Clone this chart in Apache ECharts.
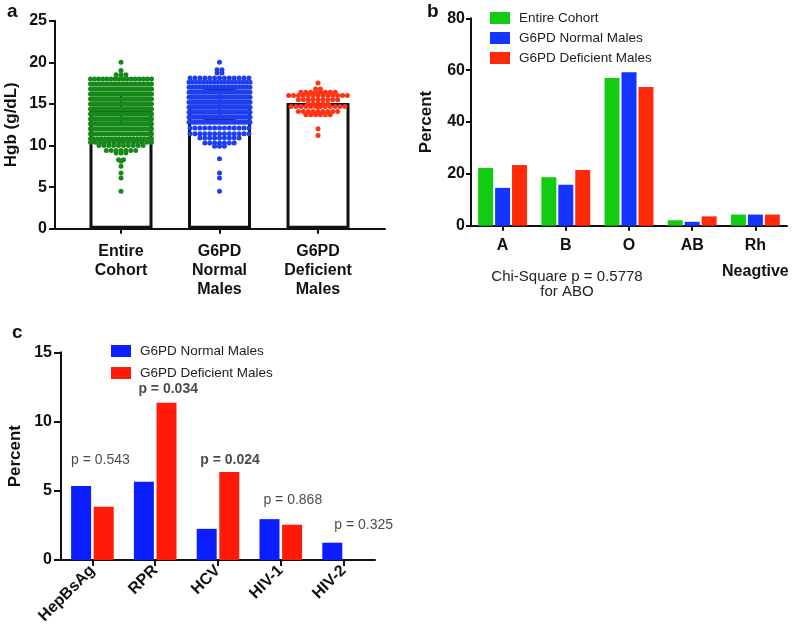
<!DOCTYPE html>
<html><head><meta charset="utf-8">
<script src="https://cdn.jsdelivr.net/npm/echarts@6/dist/echarts.min.js"></script>
<style>html,body{margin:0;padding:0;background:#fff}#c{width:797px;height:628px}</style>
</head><body><div id="c"></div>
<script>
// ---------- Panel a : Hgb scatter + bars ----------
const groupsA = ['Entire\nCohort', 'G6PD\nNormal\nMales', 'G6PD\nDeficient\nMales'];
const meanA = [14.4, 14.9, 15.1];
const sdA = [1.9, 1.8, 1.15];
// [Hgb value, number of subjects in that row]
const rowsEntire = [[20.0,1],[19.0,1],[18.5,3],[18.0,16],[17.4,24],[16.8,30],[16.2,36],[15.6,40],[15.0,42],[14.4,42],[13.8,40],[13.2,36],[12.6,30],[12.0,26],[11.4,22],[10.8,18],[10.4,14],[10.0,10],[9.4,7],[9.1,3],[8.3,2],[8.1,1],[7.5,1],[6.7,1],[6.1,1],[4.5,1]];
const rowsNormal = [[20.0,1],[19.1,2],[18.7,2],[18.1,13],[17.6,18],[17.0,24],[16.4,28],[15.8,30],[15.2,32],[14.6,32],[14.0,30],[13.4,26],[12.8,22],[12.1,13],[11.4,13],[10.9,9],[10.3,7],[9.9,3],[8.4,1],[6.7,1],[6.1,1],[4.5,1]];
const rowsDeficient = [[17.5,1],[16.8,2],[16.4,8],[16.0,13],[15.5,9],[15.0,5],[14.7,12],[14.1,9],[13.7,6],[12.0,1],[11.2,1]];

// ---------- Panel b : ABO ----------
const bloodGroups = ['A', 'B', 'O', 'AB', 'Rh\nNeagtive'];
const entireB = [22.3, 18.7, 57.0, 2.1, 4.3];
const normalB = [14.6, 15.8, 59.2, 1.5, 4.3];
const deficientB = [23.4, 21.5, 53.5, 3.6, 4.3];

// ---------- Panel c : infections ----------
const infections = ['HepBsAg', 'RPR', 'HCV', 'HIV-1', 'HIV-2'];
const normalC = [5.35, 5.65, 2.25, 2.95, 1.25];
const deficientC = [3.85, 11.35, 6.35, 2.55, 0];
const pTexts = ['p = 0.543', 'p = 0.034', 'p = 0.024', 'p = 0.868', 'p = 0.325'];
const pY = [7.2, 12.35, 7.2, 4.33, 2.53];
const pBold = [false, true, true, false, false];

// ---------- layout ----------
const FONT = "'Liberation Sans', Arial, Helvetica, sans-serif";
const gridA = {left: 55, top: 20.7, width: 330, height: 208};
const X_MIN_A = -0.67, X_MAX_A = 2.68;
const PX_PER_UNIT = gridA.width / (X_MAX_A - X_MIN_A);
const DOT_SP = 4.9, MAX_W = 61;

function swarm(rows, g) {
  const out = [];
  rows.forEach(([v, n]) => {
    const sp = n > 1 ? Math.min(DOT_SP, MAX_W / (n - 1)) : 0;
    for (let i = 0; i < n; i++) out.push([g + (i - (n - 1) / 2) * sp / PX_PER_UNIT, v]);
  });
  return out;
}

const colA = ['#17891a', '#1d3ff0', '#ff3414'];
const colB = ['#12cc12', '#1434ff', '#ff2a0a'];
const colC = ['#0a1eff', '#ff1a0a'];

const axisLineStyle = {color: '#111', width: 2};
function yAxisBase(gi, max, interval, name, nameGap, margin, tickLen) {
  return {
    gridIndex: gi, type: 'value', min: 0, max: max, interval: interval,
    name: name, nameLocation: 'middle', nameGap: nameGap,
    nameTextStyle: {fontFamily: FONT, fontWeight: 'bold', fontSize: 17, color: '#111'},
    axisLine: {show: true, onZero: false, lineStyle: axisLineStyle},
    axisTick: {show: true, length: tickLen, lineStyle: {color: '#111', width: 2}},
    axisLabel: {fontFamily: FONT, fontWeight: 'bold', fontSize: 16, color: '#111', margin: margin},
    splitLine: {show: false}
  };
}

const scatterNames = ['Entire Cohort (a)', 'G6PD Normal Males (a)', 'G6PD Deficient Males (a)'];
const rowsAll = [rowsEntire, rowsNormal, rowsDeficient];

const annotOffsets = [8, 13, 12, 12, 20];

const option = {
  backgroundColor: '#fff',
  animation: false,
  textStyle: {fontFamily: FONT},
  grid: [
    Object.assign({outerBoundsMode: 'none', containLabel: false}, gridA),
    {left: 471, top: 18.3, width: 316, height: 207.4, outerBoundsMode: 'none', containLabel: false},
    {left: 61, top: 352.3, width: 314, height: 207.7, outerBoundsMode: 'none', containLabel: false}
  ],
  xAxis: [
    {
      gridIndex: 0, type: 'value', min: X_MIN_A, max: X_MAX_A,
      axisLine: {show: true, onZero: false, lineStyle: axisLineStyle},
      axisTick: {show: true, customValues: [0, 1, 2], length: 5, lineStyle: {color: '#111', width: 2}},
      axisLabel: {customValues: [0, 1, 2], formatter: v => groupsA[Math.round(v)],
        fontFamily: FONT, fontWeight: 'bold', fontSize: 16, lineHeight: 19, color: '#111', margin: 13},
      splitLine: {show: false}
    },
    {
      gridIndex: 1, type: 'category', data: bloodGroups,
      axisLine: {show: true, onZero: false, lineStyle: axisLineStyle},
      axisTick: {show: true, alignWithLabel: true, length: 5, lineStyle: {color: '#111', width: 2}},
      axisLabel: {fontFamily: FONT, fontWeight: 'bold', fontSize: 16, lineHeight: 26, color: '#111', margin: 7, interval: 0},
      splitLine: {show: false}
    },
    {
      gridIndex: 2, type: 'category', data: infections,
      axisLine: {show: true, onZero: false, lineStyle: axisLineStyle},
      axisTick: {show: true, alignWithLabel: true, length: 6, lineStyle: {color: '#111', width: 2}},
      axisLabel: {fontFamily: FONT, fontWeight: 'bold', fontSize: 16, color: '#111', margin: 8, rotate: 45, interval: 0},
      splitLine: {show: false}
    }
  ],
  yAxis: [
    yAxisBase(0, 25, 5, 'Hgb (g/dL)', 35, 8, 6),
    yAxisBase(1, 80, 20, 'Percent', 36, 6, 5),
    yAxisBase(2, 15, 5, 'Percent', 37, 9, 7)
  ],
  legend: [
    {
      orient: 'vertical', left: 485, top: 6, itemWidth: 20, itemHeight: 12, itemGap: 6, icon: 'rect',
      textStyle: {fontFamily: FONT, fontSize: 13.5, color: '#222', lineHeight: 12, padding: [0, 0, 0, 4]},
      data: ['Entire Cohort', 'G6PD Normal Males', 'G6PD Deficient Males']
    },
    {
      orient: 'vertical', left: 106, top: 339, itemWidth: 20, itemHeight: 12, itemGap: 8, icon: 'rect',
      textStyle: {fontFamily: FONT, fontSize: 13.5, color: '#222', lineHeight: 12, padding: [0, 0, 0, 4]},
      formatter: n => n.replace(' (c)', ''),
      data: ['G6PD Normal Males (c)', 'G6PD Deficient Males (c)']
    }
  ],
  graphic: [
    {type: 'text', left: 7, top: 2, style: {text: 'a', font: 'bold 19px ' + FONT, fill: '#111'}},
    {type: 'text', left: 427, top: 2, style: {text: 'b', font: 'bold 19px ' + FONT, fill: '#111'}},
    {type: 'text', left: 12, top: 323, style: {text: 'c', font: 'bold 19px ' + FONT, fill: '#111'}},
    {type: 'text', x: 567, y: 277, style: {text: 'Chi-Square p = 0.5778', font: '15px ' + FONT, fill: '#222', align: 'center', verticalAlign: 'middle'}},
    {type: 'text', x: 567, y: 292, style: {text: 'for ABO', font: '15px ' + FONT, fill: '#222', align: 'center', verticalAlign: 'middle'}}
  ],
  series: [
    // panel a bars
    {
      type: 'bar', xAxisIndex: 0, yAxisIndex: 0, barWidth: 63, z: 2,
      itemStyle: {color: '#fff', borderColor: '#111', borderWidth: 3},
      data: meanA.map((m, i) => [i, m])
    },
    // panel a error bars
    {
      type: 'custom', xAxisIndex: 0, yAxisIndex: 0, z: 3,
      data: meanA.map((m, i) => [i, m, sdA[i]]),
      renderItem: function (params, api) {
        const x = api.value(0), m = api.value(1), sd = api.value(2);
        const t = api.coord([x, m + sd]), b = api.coord([x, m - sd]);
        const red = params.dataIndex === 2;
        const hw = red ? 11 : 16;
        const st = {stroke: red ? colA[2] : '#111', lineWidth: 2};
        return {type: 'group', children: [
          {type: 'line', shape: {x1: t[0], y1: t[1], x2: b[0], y2: b[1]}, style: st},
          {type: 'line', shape: {x1: t[0] - hw, y1: t[1], x2: t[0] + hw, y2: t[1]}, style: st},
          {type: 'line', shape: {x1: b[0] - hw, y1: b[1], x2: b[0] + hw, y2: b[1]}, style: st}
        ]};
      }
    },
    // panel a swarms
    ...rowsAll.map((rows, g) => ({
      name: scatterNames[g], type: 'scatter', xAxisIndex: 0, yAxisIndex: 0, z: 4,
      symbolSize: 5, itemStyle: {color: colA[g], opacity: 1},
      data: swarm(rows, g)
    })),
    // panel b
    {name: 'Entire Cohort', type: 'bar', xAxisIndex: 1, yAxisIndex: 1, barWidth: 15, barGap: '13%', itemStyle: {color: colB[0]}, data: entireB},
    {name: 'G6PD Normal Males', type: 'bar', xAxisIndex: 1, yAxisIndex: 1, barWidth: 15, barGap: '13%', itemStyle: {color: colB[1]}, data: normalB},
    {name: 'G6PD Deficient Males', type: 'bar', xAxisIndex: 1, yAxisIndex: 1, barWidth: 15, barGap: '13%', itemStyle: {color: colB[2]}, data: deficientB},
    // panel c
    {name: 'G6PD Normal Males (c)', type: 'bar', xAxisIndex: 2, yAxisIndex: 2, barWidth: 20, barGap: '13%', itemStyle: {color: colC[0]}, data: normalC},
    {name: 'G6PD Deficient Males (c)', type: 'bar', xAxisIndex: 2, yAxisIndex: 2, barWidth: 20, barGap: '13%', itemStyle: {color: colC[1]}, data: deficientC},
    {
      type: 'scatter', xAxisIndex: 2, yAxisIndex: 2, symbolSize: 1, z: 5,
      itemStyle: {color: 'rgba(0,0,0,0)'},
      data: infections.map((c, i) => ({
        value: [c, pY[i]],
        label: {
          show: true, position: 'inside', offset: [annotOffsets[i], 0],
          formatter: pTexts[i], fontFamily: FONT, fontSize: 14,
          fontWeight: pBold[i] ? 'bold' : 'normal', color: '#1a1a1a'
        }
      }))
    }
  ]
};

const chart = echarts.init(document.getElementById('c'), null, {renderer: 'canvas'});
chart.setOption(option);
</script>
</body></html>
